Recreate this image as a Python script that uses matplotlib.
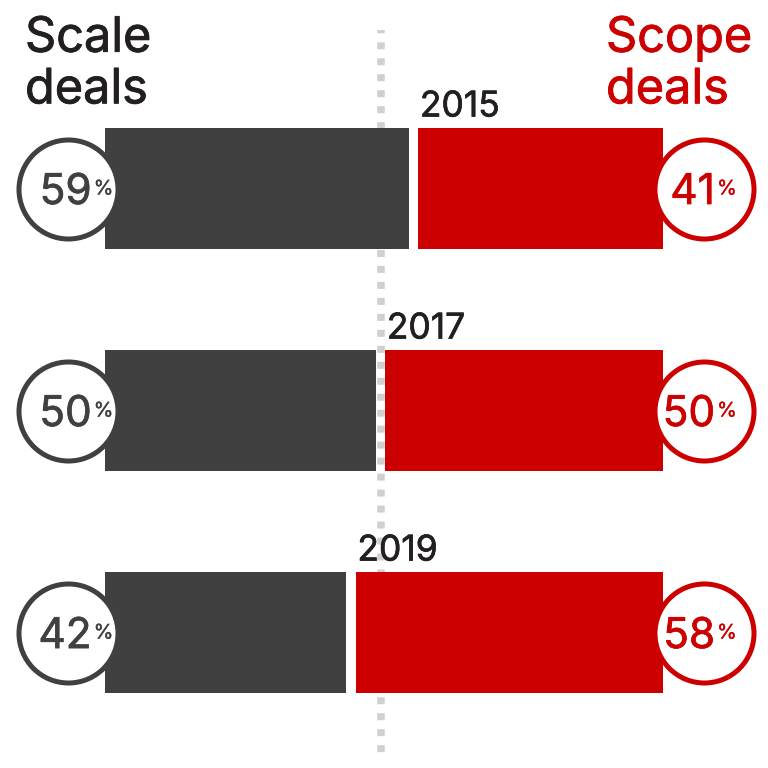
import matplotlib
matplotlib.use("Agg")
import matplotlib.pyplot as plt
import matplotlib.patheffects as pe

# shares of deals by year (percent)
years = ["2015", "2017", "2019"]
scale_share = [59, 50, 42]
scope_share = [41, 50, 58]

DARK = "#404040"
RED = "#cc0000"
INK = "#231f20"
GUIDE = "#d0d0d2"

plt.rcParams["font.family"] = ["Inter", "DejaVu Sans"]


def heavier(col, w=0.5):
    # thicken the regular weight a bit, the reference uses a medium cut
    return [pe.withStroke(linewidth=w, foreground=col)]


fig = plt.figure(figsize=(7.68, 7.68), dpi=100)
ax = fig.add_axes([0, 0, 1, 1])
# x axis is in percent, 50% sits on the dotted guide
ax.set_xlim(-53.5, 155.4)
ax.set_ylim(2.61, -0.849)
ax.axis("off")

bar_start, bar_end = -25, 126.9
gap = 1.3
bar_h = 0.545
circle_left, circle_right = -35.1, 138.0

# dotted 50% guide
ax.plot([50, 50], [-0.714, 2.547], color=GUIDE, lw=5.4,
        linestyle=(0.49, (0.93, 1.2)), zorder=1)

for i, (yr, a, b) in enumerate(zip(years, scale_share, scope_share)):
    split_l = a - gap
    split_r = (100 - b) + gap
    ax.barh(i, split_l - bar_start, left=bar_start, height=bar_h,
            color=DARK, zorder=2)
    ax.barh(i, bar_end - split_r, left=split_r, height=bar_h,
            color=RED, zorder=2)

    # year label above the red bar
    ax.annotate(yr, (split_r, i - bar_h / 2), xytext=(1.5, 11.5),
                textcoords="offset pixels", ha="left", va="baseline",
                fontsize=25.5, color=INK, zorder=5,
                path_effects=heavier(INK))

    # share labels in circles
    for cx, val, col, dx in [(circle_left, a, DARK, 24),
                             (circle_right, b, RED, 11)]:
        ax.annotate(str(val), (cx, i), xytext=(dx, -15.5),
                    textcoords="offset pixels", ha="right", va="baseline",
                    fontsize=30.5, color=col, zorder=5,
                    path_effects=heavier(col))
        ax.annotate("%", (cx, i), xytext=(dx + 2, -6),
                    textcoords="offset pixels", ha="left", va="baseline",
                    fontsize=14.5, color=col, zorder=5,
                    path_effects=heavier(col, 0.25))

rows = list(range(len(years)))
ax.scatter([circle_left] * len(rows), rows, s=5083, facecolor="white",
           edgecolor=DARK, linewidth=3.6, zorder=3)
ax.scatter([circle_right] * len(rows), rows, s=5083, facecolor="white",
           edgecolor=RED, linewidth=3.6, zorder=3)

# headings
for x, col, words in [(25, INK, ["Scale", "deals"]), (606, RED, ["Scope", "deals"])]:
    for word, base in zip(words, [51.7, 103.3]):
        fig.text(x / 768, 1 - base / 768, word, fontsize=35, color=col,
                 va="baseline", path_effects=heavier(col, 0.6))

fig.savefig("out.png", dpi=100)
